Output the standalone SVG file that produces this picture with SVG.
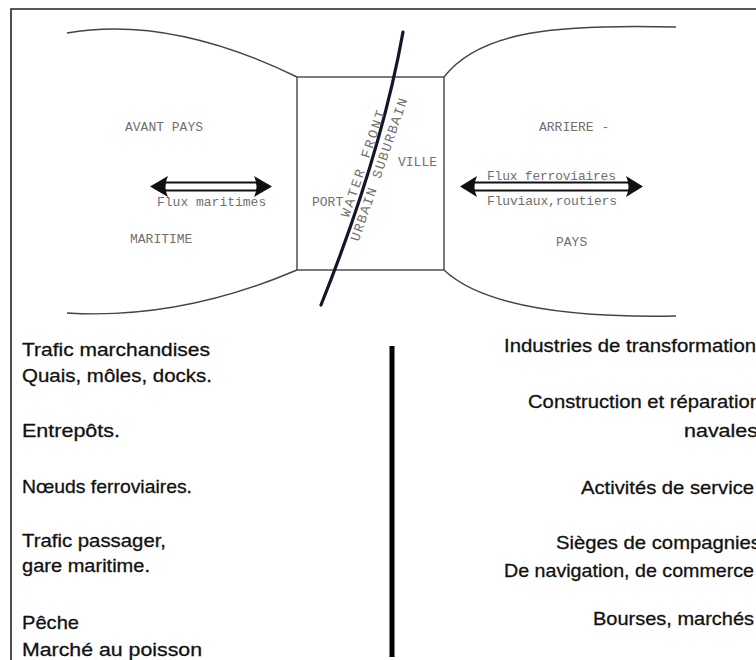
<svg xmlns="http://www.w3.org/2000/svg" width="756" height="660" viewBox="0 0 756 660">
<style>
.frame{fill:none;stroke:#222;stroke-width:1.6}
.outline{fill:none;stroke:#444;stroke-width:1.4}
.tw{font-family:"Liberation Mono","DejaVu Sans Mono",monospace;font-size:13px;fill:#707070}
.twr{font-family:"Liberation Mono","DejaVu Sans Mono",monospace;font-size:13.5px;fill:#707070}
.body{font-family:"Liberation Sans",Arial,sans-serif;font-size:19px;fill:#111;stroke:#111;stroke-width:0.3}
.dbl{stroke:#111;stroke-width:1.8;fill:none}
.head{fill:#111;stroke:none}
</style>
<rect width="756" height="660" fill="#fff"/>
<g id="frame">
<path class="frame" d="M11,660 L11,9 L756,9"/>
</g>
<g id="avant-pays">
<path class="outline" d="M67,33 Q170,15 297,77"/>
<path class="outline" d="M67,313 Q180,320 297,270"/>
<text class="tw" x="125" y="131">AVANT PAYS</text>
<text class="tw" x="130" y="243">MARITIME</text>
</g>
<g id="port-ville">
<rect class="outline" x="297" y="77" width="147" height="193"/>
<text class="tw" x="312" y="206">PORT</text>
<text class="tw" x="398" y="166">VILLE</text>
</g>
<g id="arriere-pays">
<path class="outline" d="M444,77 C480,30 560,24 676,27"/>
<path class="outline" d="M444,270 C480,304 560,318 676,316"/>
<text class="tw" x="539" y="131">ARRIERE -</text>
<text class="tw" x="556" y="246">PAYS</text>
</g>
<g id="water-front">
<path d="M403,32 Q380.8,155.6 321,305" fill="none" stroke="#141826" stroke-width="3.2" stroke-linecap="round"/>
<text class="twr" transform="translate(367,165) rotate(-71)" text-anchor="middle" textLength="112" lengthAdjust="spacing">WATER FRONT</text>
<text class="twr" transform="translate(383,171) rotate(-71)" text-anchor="middle" textLength="150" lengthAdjust="spacing">URBAIN SUBURBAIN</text>
</g>
<g id="connectors">
<g id="flux-maritimes">
<line class="dbl" x1="162" y1="182.5" x2="260" y2="182.5"/>
<line class="dbl" x1="162" y1="190.5" x2="260" y2="190.5"/>
<path class="head" d="M150,186.5 L168,176 Q163,186.5 168,197 Z"/>
<path class="head" d="M272,186.5 L254,176 Q259,186.5 254,197 Z"/>
<text class="tw" x="157" y="206">Flux maritimes</text>
</g>
<g id="flux-terrestres">
<line class="dbl" x1="472" y1="182.5" x2="631" y2="182.5"/>
<line class="dbl" x1="472" y1="190.5" x2="631" y2="190.5"/>
<path class="head" d="M460,186.5 L477,176 Q472,186.5 477,197 Z"/>
<path class="head" d="M643,186.5 L626,176 Q631,186.5 626,197 Z"/>
<text class="tw" x="487" y="180" textLength="129" lengthAdjust="spacing">Flux ferroviaires</text>
<text class="tw" x="487" y="205" textLength="130" lengthAdjust="spacing">Fluviaux,routiers</text>
</g>
<line id="separator" x1="392" y1="346" x2="392" y2="657" stroke="#000" stroke-width="5"/>
</g>
<g id="port-activities">
<text class="body" x="22" y="356" textLength="188" lengthAdjust="spacingAndGlyphs">Trafic marchandises</text>
<text class="body" x="22" y="382" textLength="190" lengthAdjust="spacingAndGlyphs">Quais, môles, docks.</text>
<text class="body" x="22" y="437" textLength="98" lengthAdjust="spacingAndGlyphs">Entrepôts.</text>
<text class="body" x="22" y="493" textLength="170" lengthAdjust="spacingAndGlyphs">Nœuds ferroviaires.</text>
<text class="body" x="22" y="547" textLength="144" lengthAdjust="spacingAndGlyphs">Trafic passager,</text>
<text class="body" x="22" y="572" textLength="128" lengthAdjust="spacingAndGlyphs">gare maritime.</text>
<text class="body" x="22" y="629" textLength="57" lengthAdjust="spacingAndGlyphs">Pêche</text>
<text class="body" x="22" y="656" textLength="180" lengthAdjust="spacingAndGlyphs">Marché au poisson</text>
</g>
<g id="city-activities">
<text class="body" x="504" y="352" textLength="252" lengthAdjust="spacingAndGlyphs">Industries de transformation</text>
<text class="body" x="528" y="408" textLength="233" lengthAdjust="spacingAndGlyphs">Construction et réparation</text>
<text class="body" x="684" y="437" textLength="74" lengthAdjust="spacingAndGlyphs">navales</text>
<text class="body" x="581" y="494" textLength="173" lengthAdjust="spacingAndGlyphs">Activités de service</text>
<text class="body" x="556" y="549" textLength="205" lengthAdjust="spacingAndGlyphs">Sièges de compagnies</text>
<text class="body" x="504" y="577" textLength="250" lengthAdjust="spacingAndGlyphs">De navigation, de commerce</text>
<text class="body" x="593" y="625" textLength="161" lengthAdjust="spacingAndGlyphs">Bourses, marchés</text>
</g>
</svg>
